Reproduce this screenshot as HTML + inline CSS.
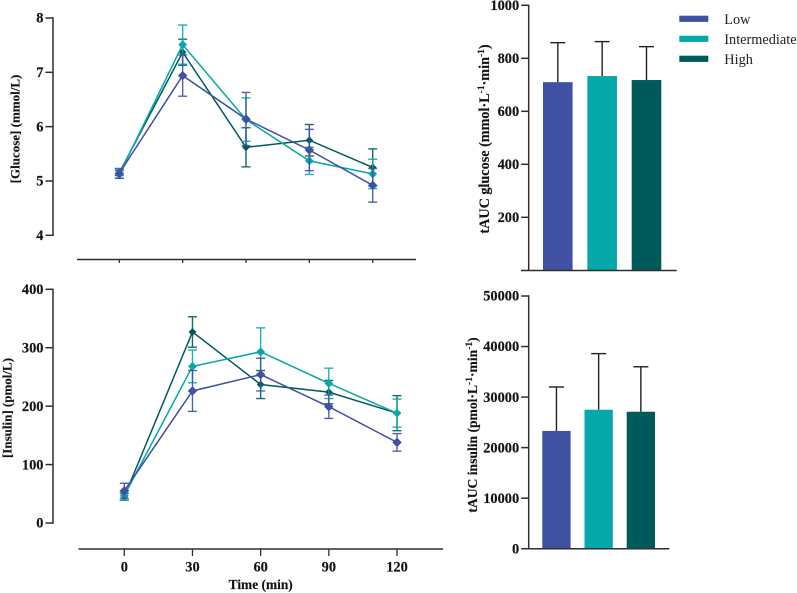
<!DOCTYPE html>
<html lang="en">
<head>
<meta charset="utf-8">
<title>Glucose and insulin response</title>
<style>
html,body{margin:0;padding:0;background:#fff;}
svg{display:block;filter:blur(0.35px);}
text{font-family:"Liberation Serif",serif;fill:#141414;}
.tick{font-weight:bold;font-size:14.4px;stroke:#141414;stroke-width:0.15px;}
.title{font-weight:bold;font-size:13px;stroke:#141414;stroke-width:0.15px;}
.legend-text{font-size:14.3px;fill:#222;}
</style>
</head>
<body>
<svg id="fig" xmlns="http://www.w3.org/2000/svg" width="797" height="593" viewBox="0 0 797 593">
  <text class="title" transform="translate(19.5,129) rotate(-90)" text-anchor="middle">[Glucose] (mmol/L)</text>
  <text class="title" transform="translate(11.5,408) rotate(-90)" text-anchor="middle">[Insulin] (pmol/L)</text>
  <text class="title" x="260.7" y="589" text-anchor="middle" style="font-size:13.4px">Time (min)</text>
  <text class="title" transform="translate(489,139) rotate(-90)" text-anchor="middle" style="font-size:14.2px">tAUC glucose (mmol·L<tspan dy="-5" font-size="9.5">-1</tspan><tspan dy="5">·min</tspan><tspan dy="-5" font-size="9.5">-1</tspan><tspan dy="5">)</tspan></text>
  <text class="title" transform="translate(477,425) rotate(-90)" text-anchor="middle" style="font-size:13.6px">tAUC insulin (pmol·L<tspan dy="-5" font-size="9.5">-1</tspan><tspan dy="5">·min</tspan><tspan dy="-5" font-size="9.5">-1</tspan><tspan dy="5">)</tspan></text>
  <g>
    <rect x="679.3" y="15.7" width="29" height="6.2" fill="#3f51a0"/>
    <text class="legend-text" x="724.3" y="24">Low</text>
    <rect x="679.3" y="35.7" width="29" height="6.2" fill="#05a8a8"/>
    <text class="legend-text" x="724.3" y="44">Intermediate</text>
    <rect x="679.3" y="55.7" width="29" height="6.2" fill="#005a5c"/>
    <text class="legend-text" x="724.3" y="64">High</text>
  </g>
</svg>
<script>
const timePoints = [0, 30, 60, 90, 120];
const groupNames = ['high', 'intermediate', 'low'];
const groupColors = ['#005a5c', '#05a8a8', '#3f51a0'];

const glucoseLow = [5.14, 6.94, 6.14, 5.57, 4.92];
const glucoseLowErr = [0.09, 0.38, 0.49, 0.38, 0.31];
const glucoseIntermediate = [5.12, 7.51, 6.13, 5.37, 5.13];
const glucoseIntermediateErr = [0.07, 0.36, 0.40, 0.25, 0.27];
const glucoseHigh = [5.15, 7.37, 5.62, 5.75, 5.25];
const glucoseHighErr = [0.05, 0.24, 0.36, 0.29, 0.34];
const glucoseTicks = [4, 5, 6, 7, 8];

const insulinLow = [55, 226, 254, 199, 138];
const insulinLowErr = [13, 35, 28, 20, 15];
const insulinIntermediate = [47, 268, 293, 239, 188];
const insulinIntermediateErr = [8, 28, 41, 26, 24];
const insulinHigh = [45, 327, 237, 224, 188];
const insulinHighErr = [6, 26, 24, 20, 30];
const insulinTicks = [0, 100, 200, 300, 400];

const barCategories = ['low', 'intermediate', 'high'];
const barColors = ['#3f51a0', '#05a8a8', '#005a5c'];
const aucGlucose = [710, 733, 718];
const aucGlucoseErr = [149, 130, 126];
const aucGlucoseTicks = [200, 400, 600, 800, 1000];
const aucInsulin = [23300, 27500, 27100];
const aucInsulinErr = [8700, 11100, 8900];
const aucInsulinTicks = [0, 10000, 20000, 30000, 40000, 50000];

const svg = document.getElementById('fig');
const AXIS = '#2e2e2e';

function make(tag, attrs, parent) {
  const el = document.createElementNS('http://www.w3.org/2000/svg', tag);
  for (const k in attrs) el.setAttribute(k, attrs[k]);
  (parent || svg).appendChild(el);
  return el;
}
function line(parent, x1, y1, x2, y2, stroke, w) {
  return make('line', {x1: x1, y1: y1, x2: x2, y2: y2, stroke: stroke, 'stroke-width': w}, parent);
}
function linear(d0, d1, r0, r1) {
  return function (v) { return r0 + (v - d0) * (r1 - r0) / (d1 - d0); };
}

function yAxis(name, axisX, scale, ticks, top, bottom) {
  const g = make('g', {});
  
  
  const a = line(g, axisX, top - 0.7, axisX, bottom + 0.7, AXIS, 1.5);
  
  
  ticks.forEach(function (t) {
    const m = line(g, axisX - 7.5, scale(t), axisX, scale(t), AXIS, 1.5);
    
    
    const l = make('text', {class: 'tick', x: axisX - 9.5, y: scale(t) + 4.7, 'text-anchor': 'end'}, g);
    l.textContent = t;
    
    
  });
}

function xAxis(name, scale, axisY, x0, x1, showLabels) {
  const g = make('g', {});
  
  
  const a = line(g, x0, axisY, x1, axisY, AXIS, 1.5);
  
  
  timePoints.forEach(function (t) {
    const m = line(g, scale(t), axisY, scale(t), axisY + (showLabels ? 7 : 3.5), AXIS, 1.3);
    
    
    if (showLabels) {
      const l = make('text', {class: 'tick', x: scale(t), y: axisY + 22.7, 'text-anchor': 'middle'}, g);
      l.textContent = t;
      
      
    }
  });
}

function series(name, values, errs, color, xs, ys, r) {
  const g = make('g', {});
  
  
  values.forEach(function (v, i) {
    const x = xs(timePoints[i]);
    const eb = make('g', {opacity: 0.9}, g);
    
    
    line(eb, x, ys(v - errs[i]), x, ys(v + errs[i]), color, 1.4);
    line(eb, x - 4.5, ys(v + errs[i]), x + 4.5, ys(v + errs[i]), color, 1.4);
    line(eb, x - 4.5, ys(v - errs[i]), x + 4.5, ys(v - errs[i]), color, 1.4);
  });
  const pts = values.map(function (v, i) { return xs(timePoints[i]) + ',' + ys(v); }).join(' ');
  const pl = make('polyline', {points: pts, fill: 'none', stroke: color, 'stroke-width': 1.5}, g);
  
  
  values.forEach(function (v, i) {
    const x = xs(timePoints[i]), y = ys(v);
    const p = make('polygon', {points: x + ',' + (y - r) + ' ' + (x + r) + ',' + y + ' ' + x + ',' + (y + r) + ' ' + (x - r) + ',' + y, fill: color}, g);
    
    
  });
}

function bars(name, values, errs, lefts, width, scale) {
  const g = make('g', {});
  
  
  values.forEach(function (v, i) {
    const x = lefts(i), cx = x + width / 2;
    const eb = make('g', {}, g);
    
    
    line(eb, cx, scale(v), cx, scale(v + errs[i]), '#222', 1.4);
    line(eb, cx - 7.5, scale(v + errs[i]), cx + 7.5, scale(v + errs[i]), '#222', 1.4);
    const r = make('rect', {x: x, y: scale(v), width: width, height: scale(0) - scale(v), fill: barColors[i]}, g);
    
    
  });
}

/* Glucose time course */
const xG = linear(0, 120, 119.3, 372.7);
const yG = linear(4, 8, 235.3, 18);
yAxis('glucose-y-axis', 53, yG, glucoseTicks, 18, 235.3);
xAxis('glucose-x-axis', xG, 259.5, 77, 416, false);
series('glucose-series-high', glucoseHigh, glucoseHighErr, groupColors[0], xG, yG, 3.9);
series('glucose-series-intermediate', glucoseIntermediate, glucoseIntermediateErr, groupColors[1], xG, yG, 4.4);
series('glucose-series-low', glucoseLow, glucoseLowErr, groupColors[2], xG, yG, 4.7);

/* Insulin time course */
const xI = linear(0, 120, 124.3, 397);
const yI = linear(0, 400, 523, 289.3);
yAxis('insulin-y-axis', 53, yI, insulinTicks, 289.3, 523);
xAxis('insulin-x-axis', xI, 549, 78.5, 443, true);
series('insulin-series-high', insulinHigh, insulinHighErr, groupColors[0], xI, yI, 3.9);
series('insulin-series-intermediate', insulinIntermediate, insulinIntermediateErr, groupColors[1], xI, yI, 4.4);
series('insulin-series-low', insulinLow, insulinLowErr, groupColors[2], xI, yI, 4.7);

/* tAUC glucose bars */
const yAG = linear(0, 1000, 270.3, 5.3);
bars('tauc-glucose-bars', aucGlucose, aucGlucoseErr, function (i) { return 543 + i * 44.35; }, 29.6, yAG);
yAxis('tauc-glucose-y-axis', 528.7, yAG, aucGlucoseTicks, 5.3, 270.3);
const bl1 = line(svg, 521, 270.5, 676.7, 270.5, AXIS, 1.5);



/* tAUC insulin bars */
const yAI = linear(0, 50000, 548.7, 296);
bars('tauc-insulin-bars', aucInsulin, aucInsulinErr, function (i) { return 542.3 + i * 42.2; }, 28.3, yAI);
yAxis('tauc-insulin-y-axis', 528.7, yAI, aucInsulinTicks, 296, 548.7);
const bl2 = line(svg, 528, 548.7, 669.3, 548.7, AXIS, 1.5);


</script>
</body>
</html>
